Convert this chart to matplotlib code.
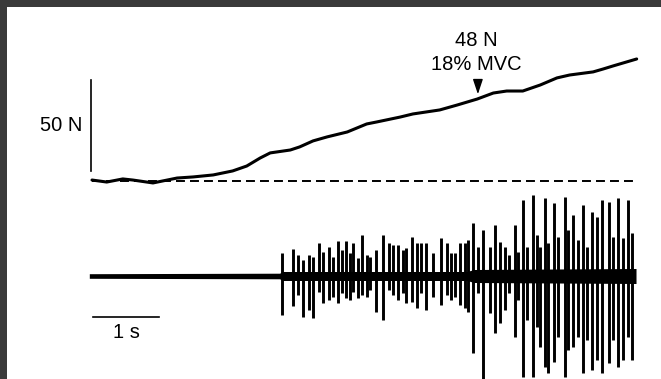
#!/usr/bin/env python3

import matplotlib
matplotlib.use("Agg")
import matplotlib.pyplot as plt
from matplotlib.patches import Rectangle

plt.rcParams['font.family'] = ['Liberation Sans', 'DejaVu Sans']

# Force trace (s, N)
force_t = [0.00, 0.22, 0.46, 0.61, 0.91, 1.27, 1.51, 1.81, 2.10, 2.31, 2.51, 2.66,
           2.96, 3.10, 3.30, 3.51, 3.81, 4.10, 4.25, 4.60, 4.79, 5.19, 5.45, 5.75,
           5.99, 6.19, 6.43, 6.69, 6.94, 7.13, 7.48, 7.63, 7.78, 8.13]
force_n = [0.8, -0.3, 1.4, 0.8, -0.8, 1.9, 2.5, 3.6, 5.8, 8.5, 12.9, 15.7,
           17.3, 19.0, 22.3, 24.5, 27.2, 31.6, 32.7, 35.4, 37.1, 39.3, 42.0, 45.3,
           48.6, 49.7, 49.7, 53.0, 56.9, 58.5, 60.2, 61.8, 63.5, 67.3]
baseline_end = 8.12

# marked point on the ramp
mark_t = 5.76
mark_force = 46.4
mark_lines = ["48 N", "18% MVC"]

# EMG spikes: time (s), positive peak, negative peak (arbitrary units)
spike_t = [2.84, 3.00, 3.07, 3.15, 3.24, 3.30, 3.39, 3.45, 3.54, 3.60, 3.67, 3.73,
           3.79, 3.85, 3.90, 3.97, 4.03, 4.10, 4.15, 4.24, 4.34, 4.43, 4.49, 4.57,
           4.64, 4.69, 4.78, 4.85, 4.91, 4.99, 5.09, 5.21, 5.30, 5.36, 5.42, 5.49,
           5.57, 5.61, 5.69, 5.76, 5.84, 5.94, 6.01, 6.09, 6.16, 6.22, 6.31, 6.36,
           6.43, 6.49, 6.58, 6.64, 6.69, 6.76, 6.81, 6.90, 6.96, 7.06, 7.10, 7.18,
           7.25, 7.33, 7.39, 7.46, 7.54, 7.61, 7.72, 7.78, 7.85, 7.93, 8.00, 8.06]
spike_hi = [23, 27, 21, 16, 21, 19, 33, 24, 29, 19, 35, 26,
            35, 23, 33, 18, 41, 21, 19, 26, 41, 33, 31, 31,
            26, 28, 39, 33, 33, 33, 23, 38, 33, 23, 23, 33,
            33, 36, 53, 29, 46, 29, 51, 34, 29, 21, 51, 24,
            76, 29, 81, 41, 29, 78, 33, 73, 39, 79, 46, 61,
            36, 71, 29, 64, 59, 76, 74, 39, 78, 38, 76, 43]
spike_lo = [-39, -30, -19, -41, -34, -42, -16, -27, -24, -21, -27, -17,
            -22, -24, -16, -22, -19, -21, -14, -36, -44, -14, -19, -24,
            -17, -27, -26, -32, -17, -34, -21, -29, -19, -24, -21, -29,
            -32, -36, -77, -17, -104, -37, -57, -47, -34, -17, -61, -24,
            -101, -44, -101, -51, -71, -91, -97, -86, -61, -101, -74, -71,
            -61, -97, -64, -94, -84, -97, -87, -64, -91, -84, -61, -84]

# thickness of the EMG baseline (half width, same units)
env_t = [-0.04, 2.80, 2.85, 5.60, 5.70, 8.12]
env_half = [2.3, 2.8, 4.5, 4.5, 6.5, 7.5]

# scale bars
bar_force = [5.5, 55.5]
bar_time = [0.015, 1.0]

fig = plt.figure(figsize=(6.61, 3.79), dpi=100, facecolor='#3a3a3a')
fig.patches.append(Rectangle((7 / 661, 0), 654 / 661, 372 / 379,
                             transform=fig.transFigure, facecolor='white',
                             edgecolor='none', zorder=-10))

ax_f = fig.add_axes([0, 0, 1, 1])
ax_e = fig.add_axes([0, 0, 1, 1])
for ax in (ax_f, ax_e):
    ax.set_axis_off()
    ax.set_xlim(-1.373, 8.493)
ax_f.set_ylim(-108.5, 99.7)
ax_e.set_ylim(-103, 276)

# force
ax_f.plot(force_t, force_n, color='k', lw=2.2, solid_capstyle='round',
          solid_joinstyle='round')
ax_f.plot([0, baseline_end], [0, 0], color='k', lw=1.4, dashes=(4.6, 2.6))
ax_f.plot([-0.02, -0.02], bar_force, color='k', lw=1.2)
ax_f.text(-0.15, sum(bar_force) / 2, "50 N", ha='right', va='center', fontsize=14.5)
ax_f.annotate('', xy=(mark_t, mark_force), xytext=(mark_t, mark_force + 9),
              arrowprops=dict(arrowstyle='-|>,head_length=0.9,head_width=0.3',
                              color='k', lw=1.0))
ax_f.text(mark_t - 0.02, 64.0, mark_lines[1], ha='center', va='center', fontsize=14.5)
ax_f.text(mark_t - 0.02, 77.5, mark_lines[0], ha='center', va='center', fontsize=14.5)

# EMG
ax_e.fill_between(env_t, [-h for h in env_half], env_half, color='k', lw=0)
ax_e.vlines(spike_t, spike_lo, spike_hi, color='k', lw=2.1)
ax_e.plot(bar_time, [-41, -41], color='k', lw=1.2)
ax_e.text(sum(bar_time) / 2, -57, "1 s", ha='center', va='center', fontsize=14.5)

fig.savefig('out.png', dpi=100, facecolor=fig.get_facecolor())
